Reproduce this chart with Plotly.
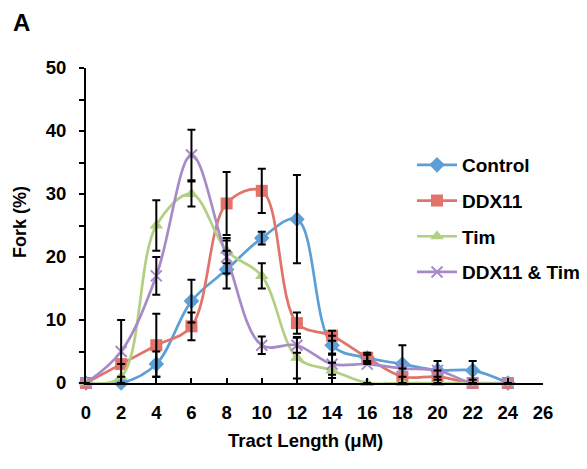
import plotly.graph_objects as go

tract_length = [0, 2, 4, 6, 8, 10, 12, 14, 16, 18, 20, 22, 24]
x_ticks = [0, 2, 4, 6, 8, 10, 12, 14, 16, 18, 20, 22, 24, 26]

series_names = ["Control", "DDX11", "Tim", "DDX11 & Tim"]
control = [0, 0, 3, 13, 18, 23, 26, 6, 4, 3, 2, 2, 0]
control_err = [0, 0, 2, 3.4, 3, 1, 7, 1.5, 0.5, 3, 1.5, 1.5, 0]
ddx11 = [0, 3, 6, 9, 28.5, 30.5, 9.5, 7.5, 4, 1, 1, 0, 0]
ddx11_err = [0, 0, 5, 2.2, 5, 3.5, 1.7, 0.8, 0.8, 0, 0, 0, 0]
tim = [0, 1, 25, 30, 21, 17, 4, 2, 0, 0, 0, 0, 0]
tim_err = [0, 0, 4, 2, 2, 2, 3.3, 1.2, 0, 0, 0, 0, 0]
ddx11_tim = [0, 5, 17, 36.2, 20, 6, 6, 3, 3, 2.3, 2, 0, 0]
ddx11_tim_err = [0, 5, 3, 4, 2.6, 1.4, 1.2, 1.7, 0, 0, 0, 0, 0]

values = [control, ddx11, tim, ddx11_tim]
errors = [control_err, ddx11_err, tim_err, ddx11_tim_err]
colors = ["#5B9FD6", "#E0736A", "#B3CF82", "#A78BC9"]
symbols = ["diamond", "square", "triangle-up", "x-thin-open"]
sizes = [12, 12, 12, 11]

FONT = "Liberation Sans, Arial, sans-serif"

fig = go.Figure()
for name, y, c, s, sz in zip(series_names, values, colors, symbols, sizes):
    marker = dict(symbol=s, size=sz, color=c)
    if s == "x-thin-open":
        marker["line"] = dict(color=c, width=2)
    else:
        marker["line"] = dict(width=0)
    fig.add_trace(go.Scatter(
        x=tract_length, y=y, name=name, mode="lines+markers",
        line=dict(color=c, width=2.7, shape="spline", smoothing=1.0),
        marker=marker, cliponaxis=False, legendgroup=name,
    ))

# error bars drawn on top
for y, e in zip(values, errors):
    fig.add_trace(go.Scatter(
        x=tract_length, y=y, mode="markers", showlegend=False,
        marker=dict(size=1, opacity=0), hoverinfo="skip", cliponaxis=False,
        error_y=dict(type="data", array=e, visible=True, color="black",
                     thickness=2, width=4),
    ))

# page body has an 8px margin; work in reference pixel coordinates
OFF = 8
W, H = 587 - OFF, 469 - OFF
X0, X1, Y0, Y1 = 86 - OFF, 543 - OFF, 68 - OFF, 383 - OFF   # plot area
L, R, T, B = X0, W - X1, Y0, H - Y1
PW, PH = X1 - X0, Y1 - Y0


def px(x):
    return (x - OFF - X0) / PW


def py(y):
    return (Y1 - (y - OFF)) / PH


fig.update_layout(
    width=W, height=H,
    margin=dict(l=L, r=R, t=T, b=B, autoexpand=False),
    plot_bgcolor="white", paper_bgcolor="white",
    font=dict(family=FONT, size=18, color="black", weight="bold"),
    showlegend=True,
    legend=dict(x=px(412), y=py(146),
                xanchor="left", yanchor="top", bgcolor="rgba(0,0,0,0)",
                font=dict(size=19, weight="bold"), traceorder="grouped",
                tracegroupgap=8, itemwidth=40),
    xaxis=dict(range=[0, 26], tickvals=x_ticks, ticks="inside", ticklen=5,
               tickwidth=2, tickcolor="black", showline=True, linecolor="black",
               linewidth=2, showgrid=False, zeroline=False, automargin=False,
               ticklabelstandoff=12, tickfont=dict(size=18.5, weight="bold")),
    yaxis=dict(range=[0, 50], dtick=10, ticks="outside", ticklen=5,
               tickwidth=2, tickcolor="black", showline=True, linecolor="black",
               linewidth=2, showgrid=False, zeroline=False, automargin=False,
               minor=dict(dtick=5, ticks="outside", ticklen=5, tickwidth=2,
                          tickcolor="black"),
               ticklabelstandoff=9, tickfont=dict(size=18.5, weight="bold")),
    annotations=[
        dict(text="A", xref="paper", yref="paper",
             x=px(11), y=py(22),
             xanchor="left", yanchor="middle", showarrow=False,
             font=dict(size=24, weight="bold")),
        dict(text="Fork (%)", xref="paper", yref="paper",
             x=px(20), y=py(222),
             xanchor="center", yanchor="middle", textangle=-90, showarrow=False,
             font=dict(size=18, weight="bold")),
        dict(text="Tract Length (\u03bcM)", xref="paper", yref="paper",
             x=px(305), y=py(440),
             xanchor="center", yanchor="middle", showarrow=False,
             font=dict(size=18.5, weight="bold")),
    ],
)

fig.write_html("out.html")
